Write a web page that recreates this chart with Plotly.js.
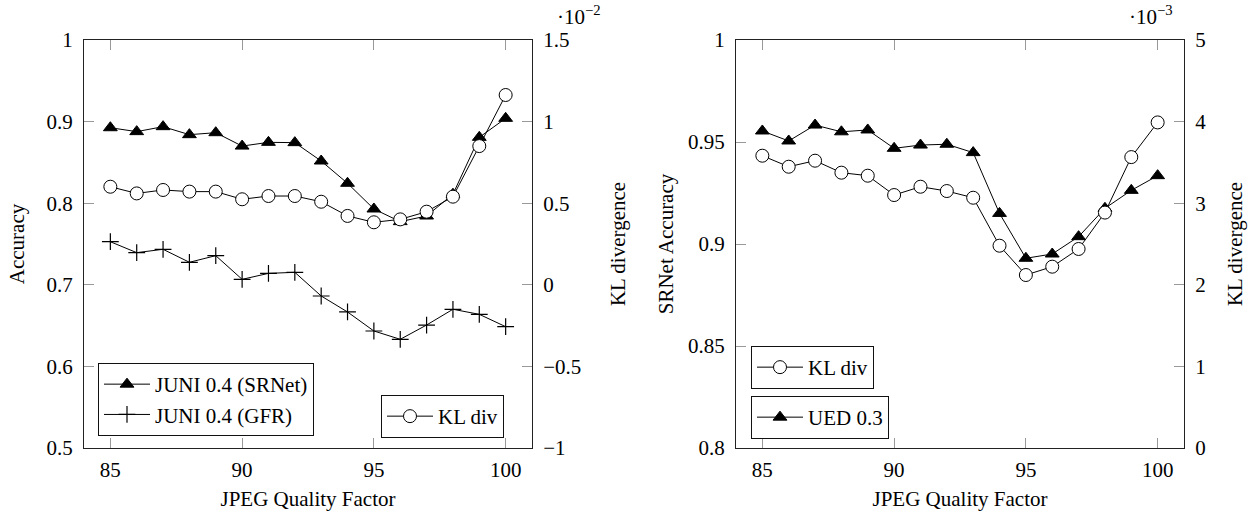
<!DOCTYPE html>
<html>
<head>
<meta charset="utf-8">
<script src="https://cdn.plot.ly/plotly-3.0.1.min.js"></script>
<style>html,body{margin:0;padding:0;background:#fff;}#chart{width:1251px;height:516px;}</style>
</head>
<body>
<div id="chart"></div>
<script>
// ---- data ----
const quality = [85, 86, 87, 88, 89, 90, 91, 92, 93, 94, 95, 96, 97, 98, 99, 100];

// left chart
const juniSRNet = [0.8925, 0.8877, 0.8938, 0.884, 0.8864, 0.870, 0.8746, 0.8742, 0.8517, 0.8244, 0.7929, 0.7774, 0.7843, 0.811, 0.8807, 0.904];
const juniGFR   = [0.7528, 0.7394, 0.7435, 0.7276, 0.7357, 0.7067, 0.714, 0.7153, 0.6863, 0.6667, 0.6434, 0.6332, 0.6507, 0.670, 0.6638, 0.6487];
const klLeft    = [0.601, 0.560, 0.581, 0.571, 0.571, 0.524, 0.544, 0.544, 0.509, 0.422, 0.383, 0.401, 0.448, 0.540, 0.850, 1.163]; // x 10^-2

// right chart
const uedAcc    = [0.9554, 0.9505, 0.9583, 0.955, 0.9559, 0.9469, 0.9485, 0.9489, 0.9448, 0.915, 0.893, 0.8951, 0.9036, 0.9175, 0.9263, 0.9335];
const klRight   = [3.582, 3.447, 3.521, 3.374, 3.337, 3.100, 3.202, 3.149, 3.067, 2.479, 2.120, 2.222, 2.439, 2.885, 3.565, 3.99]; // x 10^-3

const xTicks = [85, 90, 95, 100];
const leftAccTicks = [0.5, 0.6, 0.7, 0.8, 0.9, 1];
const leftKLTicks = [-1, -0.5, 0, 0.5, 1, 1.5];
const rightAccTicks = [0.8, 0.85, 0.9, 0.95, 1];
const rightKLTicks = [0, 1, 2, 3, 4, 5];

// ---- styles ----
const FONT = 'Liberation Serif';
const line = {color: '#000', width: 1};
const triMarker = {symbol: 'triangle-up', size: 12, color: '#000', line: {color: '#000', width: 1}};
const circMarker = {symbol: 'circle', size: 13, color: '#fff', line: {color: '#000', width: 1}};
const crossMarker = {symbol: 'cross-thin', size: 12, color: '#000', line: {color: '#000', width: 1.2}};

const traces = [
  {x: quality, y: juniSRNet, xaxis: 'x', yaxis: 'y', mode: 'lines+markers', name: 'JUNI 0.4 (SRNet)', line: line, marker: triMarker, legend: 'legend'},
  {x: quality, y: juniGFR, xaxis: 'x', yaxis: 'y', mode: 'lines+markers', name: 'JUNI 0.4 (GFR)', line: line, marker: crossMarker, legend: 'legend'},
  {x: quality, y: klLeft, xaxis: 'x', yaxis: 'y2', mode: 'lines+markers', name: 'KL div', line: line, marker: circMarker, legend: 'legend2'},
  {x: quality, y: klRight, xaxis: 'x2', yaxis: 'y4', mode: 'lines+markers', name: 'KL div', line: line, marker: circMarker, legend: 'legend3'},
  {x: quality, y: uedAcc, xaxis: 'x2', yaxis: 'y3', mode: 'lines+markers', name: 'UED 0.3', line: line, marker: triMarker, legend: 'legend4'}
];

const W = 1251, H = 516;
const yDom = [(H - 448) / H, (H - 40) / H];
const tickFont = {family: FONT, size: 21, color: '#000'};
const titleFont = {family: FONT, size: 21, color: '#000'};

function xAxis(domain, anchor) {
  return {
    domain: domain, anchor: anchor, range: [84, 101],
    tickvals: xTicks, ticktext: xTicks.map(String),
    ticks: 'inside', ticklen: 10, tickcolor: '#999', tickwidth: 1,
    showline: true, linecolor: '#222', linewidth: 1, mirror: 'ticks',
    showgrid: false, zeroline: false, tickfont: tickFont,
    ticklabelstandoff: 3,
    title: {text: 'JPEG Quality Factor', font: titleFont, standoff: 10}
  };
}
function yAxis(anchor, range, vals, title, side, overlay, standoff) {
  const a = {
    anchor: anchor, domain: yDom, range: range,
    tickvals: vals, ticktext: vals.map(v => String(v).replace('-', '\u2212')),
    ticks: 'inside', ticklen: 10, tickcolor: '#999', tickwidth: 1,
    showline: true, linecolor: '#222', linewidth: 1, mirror: false,
    showgrid: false, zeroline: false, tickfont: tickFont, side: side,
    ticklabelstandoff: 6,
    title: {text: title, font: titleFont, standoff: standoff}
  };
  if (overlay) a.overlaying = overlay;
  return a;
}

const legendBase = {
  bgcolor: '#fff', bordercolor: '#111', borderwidth: 1,
  font: {family: FONT, size: 21, color: '#000'},
  xanchor: 'left', yanchor: 'top', tracegroupgap: 0, itemwidth: 46
};

const layout = {
  width: W, height: H,
  margin: {l: 0, r: 0, t: 0, b: 0},
  paper_bgcolor: '#fff', plot_bgcolor: 'rgba(0,0,0,0)',
  font: {family: FONT, size: 21, color: '#000'},
  showlegend: true,
  xaxis: xAxis([84 / W, 532 / W], 'y'),
  yaxis: yAxis('x', [0.5, 1], leftAccTicks, 'Accuracy', 'left', null, 16),
  yaxis2: yAxis('x', [-1, 1.5], leftKLTicks, 'KL divergence', 'right', 'y', 30),
  xaxis2: xAxis([736 / W, 1184 / W], 'y3'),
  yaxis3: yAxis('x2', [0.8, 1], rightAccTicks, 'SRNet Accuracy', 'left', null, 8),
  yaxis4: yAxis('x2', [0, 5], rightKLTicks, 'KL divergence', 'right', 'y3', 22),
  legend: Object.assign({}, legendBase, {x: 98 / W, y: 1 - 363 / H}),
  legend2: Object.assign({}, legendBase, {x: 381 / W, y: 1 - 395 / H}),
  legend3: Object.assign({}, legendBase, {x: 751 / W, y: 1 - 346 / H}),
  legend4: Object.assign({}, legendBase, {x: 751 / W, y: 1 - 396 / H}),
  annotations: [
    {xref: 'paper', yref: 'paper', x: 555 / W, y: 1 - 15 / H, xanchor: 'left', yanchor: 'middle', showarrow: false,
     text: '\u00b710<sup>\u22122</sup>', font: {family: FONT, size: 21, color: '#000'}},
    {xref: 'paper', yref: 'paper', x: 1127 / W, y: 1 - 15 / H, xanchor: 'left', yanchor: 'middle', showarrow: false,
     text: '\u00b710<sup>\u22123</sup>', font: {family: FONT, size: 21, color: '#000'}}
  ]
};

Plotly.newPlot('chart', traces, layout, {displayModeBar: false, staticPlot: true});
</script>
</body>
</html>
